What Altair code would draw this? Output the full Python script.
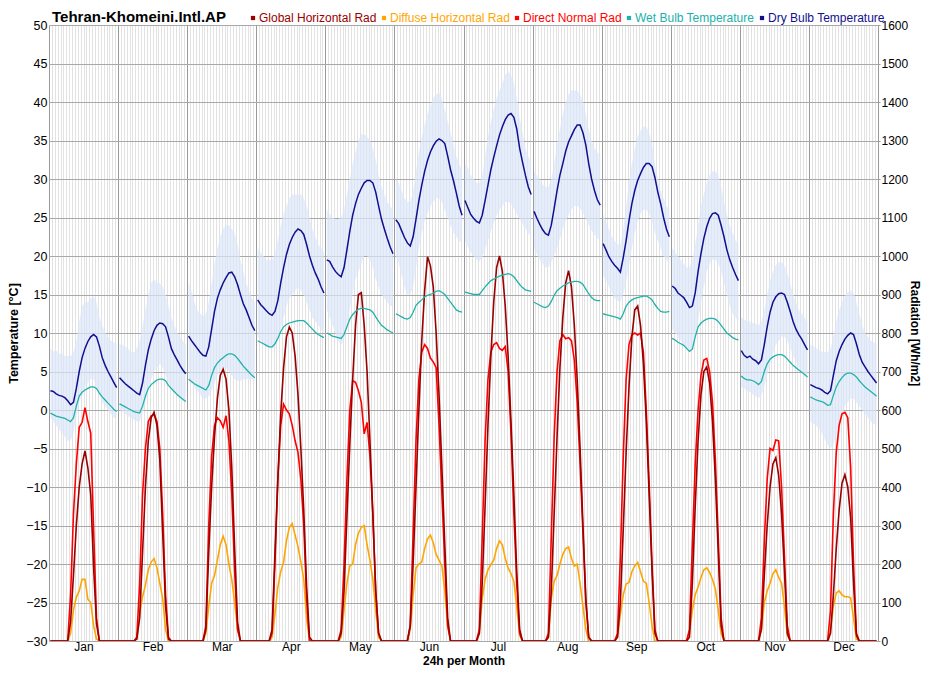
import altair as alt
import pandas as pd

FONT = "Liberation Sans, Arial, sans-serif"
MONTHS = ["Jan", "Feb", "Mar", "Apr", "May", "Jun", "Jul", "Aug", "Sep", "Oct", "Nov", "Dec"]
HOURS = list(range(24))

DRY_BULB = [
    [2.5, 2.4, 2.1, 1.9, 1.8, 1.6, 1.2, 0.7, 1.0, 2.8, 5.0, 6.8, 8.0, 8.9, 9.5, 9.8, 9.5, 8.3, 6.8, 5.8, 5.0, 4.3, 3.6, 2.9],
    [4.2, 3.8, 3.4, 3.1, 2.8, 2.5, 2.2, 2.0, 3.5, 5.8, 7.8, 9.2, 10.3, 11.0, 11.3, 11.2, 10.8, 9.5, 8.0, 7.2, 6.5, 5.8, 5.2, 4.7],
    [9.6, 9.0, 8.5, 8.0, 7.5, 7.1, 7.0, 8.2, 10.5, 12.8, 14.5, 15.6, 16.5, 17.2, 17.8, 17.9, 17.3, 16.3, 15.0, 13.8, 13.0, 12.0, 11.0, 10.3],
    [14.3, 13.7, 13.3, 12.9, 12.5, 12.3, 12.8, 14.2, 16.5, 18.5, 20.2, 21.5, 22.4, 23.1, 23.5, 23.3, 22.8, 21.5, 20.0, 18.8, 17.8, 17.0, 16.0, 15.2],
    [19.5, 19.3, 18.6, 18.0, 17.6, 17.3, 18.5, 20.8, 23.2, 25.3, 26.8, 28.0, 28.8, 29.5, 29.8, 29.8, 29.5, 28.3, 26.5, 24.8, 23.5, 22.3, 21.2, 20.3],
    [24.7, 24.2, 23.3, 22.4, 21.7, 21.3, 22.5, 24.8, 27.2, 29.2, 31.0, 32.4, 33.5, 34.3, 34.9, 35.2, 35.0, 34.6, 33.0, 31.2, 29.8, 28.2, 26.5, 25.3],
    [27.2, 26.3, 25.4, 24.9, 24.5, 24.3, 25.3, 27.2, 29.2, 31.2, 32.8, 34.3, 35.7, 36.8, 37.7, 38.3, 38.5, 38.0, 36.5, 34.0, 32.2, 30.5, 29.0, 28.0],
    [25.8, 24.9, 24.1, 23.4, 22.9, 22.7, 24.0, 26.2, 28.5, 30.5, 32.0, 33.6, 34.8, 35.6, 36.4, 37.0, 37.0, 36.0, 34.4, 32.0, 30.0, 28.5, 27.3, 26.6],
    [21.6, 20.8, 19.9, 19.3, 18.8, 18.4, 17.9, 19.8, 22.0, 24.6, 26.8, 28.5, 29.8, 30.7, 31.5, 32.0, 32.0, 31.6, 30.2, 28.3, 26.8, 25.0, 23.5, 22.5],
    [16.1, 15.8, 15.2, 14.9, 14.6, 14.0, 13.3, 13.5, 15.2, 18.0, 20.3, 22.3, 23.8, 24.9, 25.5, 25.6, 25.3, 24.0, 22.5, 20.8, 19.5, 18.5, 17.6, 16.8],
    [7.7, 7.1, 6.8, 7.0, 6.6, 6.4, 6.0, 6.5, 8.5, 10.8, 12.7, 14.0, 14.7, 15.1, 15.2, 15.0, 14.0, 12.8, 11.5, 10.5, 9.8, 9.2, 8.5, 7.8],
    [3.3, 3.1, 2.9, 2.8, 2.6, 2.3, 2.1, 2.5, 4.5, 6.4, 7.6, 8.5, 9.2, 9.7, 10.0, 9.8, 8.6, 7.2, 6.2, 5.6, 5.0, 4.5, 4.0, 3.5],
]

WET_BULB = [
    [-0.4, -0.6, -0.8, -0.9, -1.0, -1.1, -1.3, -1.5, -1.0, 0.5, 1.8, 2.3, 2.6, 2.8, 3.0, 3.0, 2.8, 2.2, 1.7, 1.3, 0.9, 0.5, 0.1, -0.2],
    [0.8, 0.6, 0.4, 0.2, 0.0, -0.2, -0.3, -0.4, 0.5, 1.8, 2.8, 3.3, 3.6, 3.9, 4.0, 4.0, 3.8, 3.2, 2.8, 2.4, 2.0, 1.7, 1.4, 1.1],
    [4.0, 3.7, 3.4, 3.2, 3.0, 2.8, 2.6, 3.2, 4.5, 5.5, 6.1, 6.5, 6.8, 7.1, 7.3, 7.3, 7.1, 6.7, 6.2, 5.7, 5.3, 4.9, 4.5, 4.2],
    [9.0, 8.8, 8.6, 8.4, 8.2, 8.2, 8.6, 9.3, 10.2, 10.8, 11.1, 11.3, 11.4, 11.5, 11.6, 11.6, 11.6, 11.3, 10.9, 10.5, 10.1, 9.8, 9.6, 9.4],
    [10.0, 9.8, 9.6, 9.5, 9.4, 9.3, 9.8, 10.8, 11.8, 12.4, 12.8, 13.1, 13.2, 13.2, 13.1, 13.0, 12.7, 12.1, 11.5, 11.0, 10.7, 10.4, 10.2, 10.0],
    [12.5, 12.3, 12.1, 11.9, 11.8, 12.0, 12.7, 13.6, 14.0, 14.3, 14.7, 14.9, 15.0, 15.2, 15.4, 15.5, 15.3, 15.0, 14.5, 14.0, 13.5, 13.0, 12.8, 12.7],
    [15.3, 15.2, 15.1, 15.0, 15.0, 15.0, 15.5, 16.0, 16.4, 16.8, 17.0, 17.2, 17.4, 17.5, 17.6, 17.7, 17.6, 17.3, 16.8, 16.3, 15.9, 15.6, 15.5, 15.4],
    [14.0, 13.8, 13.6, 13.4, 13.3, 13.5, 14.1, 14.9, 15.5, 15.8, 16.1, 16.3, 16.5, 16.6, 16.7, 16.7, 16.6, 16.3, 15.7, 15.1, 14.6, 14.3, 14.2, 14.2],
    [12.5, 12.4, 12.3, 12.2, 12.1, 12.0, 11.8, 12.5, 13.5, 14.0, 14.3, 14.5, 14.6, 14.7, 14.8, 14.8, 14.6, 14.3, 13.7, 13.2, 12.8, 12.7, 12.7, 12.8],
    [9.3, 9.1, 8.8, 8.6, 8.4, 8.0, 7.6, 7.9, 9.5, 10.8, 11.3, 11.6, 11.8, 11.9, 11.9, 11.8, 11.5, 11.0, 10.5, 10.0, 9.7, 9.4, 9.2, 9.1],
    [4.4, 4.1, 3.9, 3.9, 3.8, 3.6, 3.3, 3.7, 5.0, 6.0, 6.6, 6.9, 7.1, 7.2, 7.2, 7.0, 6.6, 6.2, 5.8, 5.5, 5.2, 4.9, 4.6, 4.3],
    [1.7, 1.5, 1.3, 1.2, 1.1, 0.9, 0.6, 0.7, 1.9, 3.0, 3.7, 4.2, 4.6, 4.8, 4.8, 4.6, 4.3, 3.8, 3.4, 3.0, 2.7, 2.4, 2.1, 1.8],
]

DRY_MAX = [
    [8, 7.6, 7.8, 7.3, 7.3, 7.0, 7.0, 7.0, 7.5, 9.0, 11.5, 13.5, 14, 14, 14.5, 14.8, 14, 12, 11, 10, 9.5, 9, 8.8, 8.5],
    [8.5, 8.5, 8.2, 8, 7.5, 7.5, 8, 9, 11, 13, 15, 16.5, 17, 16.5, 16.5, 16, 15, 13.5, 12, 11, 10, 9.5, 9, 8.5],
    [16.5, 15.5, 14, 13, 12.5, 12.2, 12.5, 14, 16.5, 19, 21, 22.5, 23.5, 24, 24, 23.5, 23, 21.5, 19.5, 18, 16.5, 15.5, 14.5, 14],
    [21, 20.5, 20, 19.5, 19.5, 19.5, 20.5, 22, 24, 25.5, 26.5, 27.5, 28, 28, 28, 28, 27.5, 26.5, 25, 23.5, 22.5, 21.5, 21, 20.5],
    [26, 25.5, 25, 24.8, 24.8, 25, 26, 28, 30, 32, 33.5, 35, 35.8, 35.8, 35.5, 35, 34, 32.5, 30.5, 29, 28, 27, 26.5, 26],
    [30, 29.5, 28.5, 27.5, 27, 27, 28.5, 31, 33.5, 35.5, 37, 38.5, 39.5, 40.5, 41, 41.2, 40.5, 39, 37.5, 36, 34.5, 33, 32, 31],
    [32, 31.5, 30.5, 30, 29.5, 29.5, 30.5, 33, 35.5, 37.5, 39, 40.5, 41.5, 42.5, 43.5, 44, 43.5, 42.5, 40.5, 38, 36, 34, 33, 32],
    [31, 30.5, 29.8, 29.3, 29, 29, 30, 32, 34.5, 36.5, 38.5, 40, 41, 41.5, 41.5, 41.5, 41, 40, 38.5, 36.5, 35, 34, 33.5, 33],
    [25.5, 24.5, 23.5, 22.5, 22, 21.5, 21.5, 23.5, 26.5, 29.5, 32, 34, 35.5, 36.3, 36.8, 36.8, 36, 34.5, 32, 30, 28.5, 27.5, 26.5, 26],
    [21, 20.5, 20, 19.5, 19, 18.5, 18.5, 19.5, 21.5, 24, 26.5, 28, 29.5, 30.5, 31, 31, 30.5, 29, 27, 25.5, 24, 23, 22, 21.5],
    [12, 11.8, 11.5, 11.5, 11.3, 11.2, 11.0, 11.5, 13, 15, 16.8, 18, 18.8, 19.2, 19.2, 18.8, 17.8, 16.5, 15, 14, 13, 12.5, 12, 11.5],
    [8.5, 8.3, 8, 7.8, 7.6, 7.5, 7.5, 8, 9.5, 11.5, 13, 14, 14.8, 15.3, 15.5, 15.2, 14, 12.5, 11, 10, 9.5, 9, 8.8, 8.5],
]

DRY_MIN = [
    [-1, -1.5, -2, -2.5, -3, -3.5, -4, -4, -3, -1, 1, 2, 3, 3.5, 4, 4, 3, 2, 1, 0.5, 0, -0.5, -1, -1],
    [0, -0.2, -0.5, -0.8, -1, -1.3, -1.5, -1.5, -0.5, 1, 2.5, 4, 5, 5.5, 6, 5.5, 4.5, 3.5, 3, 2.5, 2, 1.5, 1.2, 1],
    [4, 3.5, 3, 2.5, 2, 1.5, 1.5, 1.8, 2.5, 3.5, 4.5, 5, 5.5, 5.5, 5, 4.5, 4, 3.8, 3.8, 4, 4, 4, 4, 4],
    [9.5, 9, 8.5, 8.2, 8, 8, 8.5, 9.5, 10.5, 12, 13.5, 14.5, 15, 15.5, 16, 15.5, 15, 14, 13, 12, 11.5, 11, 10.5, 10],
    [13, 12, 11, 10, 9, 8.5, 9, 11, 13, 15, 17, 18, 19, 20, 20, 19.5, 18.5, 17, 16, 15, 14.5, 14, 13.5, 13.5],
    [20, 19, 17.5, 16, 15, 15, 16, 18.5, 21, 23, 24.5, 25.5, 26.5, 27, 27.5, 27.5, 27, 26, 25, 24, 23, 22.5, 22, 21.5],
    [22, 21.2, 20.5, 20, 19.5, 19.3, 19.8, 20.8, 22, 23.2, 24.3, 25.2, 26, 26.5, 27, 27, 26.8, 26.2, 25.5, 24.8, 24.2, 23.6, 23, 22.5],
    [21, 20.2, 19.5, 19, 18.5, 18.5, 19.2, 20, 21, 22.3, 23.5, 24.5, 25.3, 26, 26.5, 26.5, 26.2, 25.6, 24.8, 24, 23.3, 22.8, 22.3, 22],
    [17.5, 16.8, 16, 15.2, 14.5, 14.2, 14, 15, 16.5, 18.8, 21, 23, 24.5, 25.5, 26, 26, 25.5, 24.5, 23, 22, 21, 20, 19.5, 19],
    [10.5, 10, 9.5, 9, 8.5, 8, 7.5, 8, 9.5, 11.5, 14, 16, 18, 19, 19.5, 19.5, 19, 18, 16.5, 15, 13.5, 12.5, 12, 11.5],
    [3, 2.8, 2.5, 2.3, 2, 1.8, 1.5, 2, 3, 4.5, 6, 7.3, 8.5, 9, 9.5, 9.5, 9, 8, 7, 6.3, 5.5, 5, 4.5, 4],
    [-1.5, -1.8, -2, -2.5, -3, -3.8, -4.5, -5, -4.5, -3.2, -2, -0.8, 0.5, 1, 1.5, 1.5, 1, 0.5, 0, -0.5, -1, -1.5, -1.8, -2],
]

GLOBAL_HOR = [
    [0, 0, 0, 0, 0, 0, 0, 50, 170, 300, 400, 460, 494, 450, 380, 190, 45, 0, 0, 0, 0, 0, 0, 0],
    [0, 0, 0, 0, 0, 0, 5, 60, 230, 400, 520, 580, 594, 560, 470, 280, 90, 5, 0, 0, 0, 0, 0, 0],
    [0, 0, 0, 0, 0, 0, 30, 230, 400, 530, 630, 690, 706, 680, 600, 450, 240, 50, 0, 0, 0, 0, 0, 0],
    [0, 0, 0, 0, 0, 30, 230, 420, 590, 710, 790, 815, 800, 740, 640, 500, 340, 140, 10, 0, 0, 0, 0, 0],
    [0, 0, 0, 0, 0, 20, 130, 320, 510, 680, 820, 900, 905, 820, 700, 520, 330, 130, 20, 0, 0, 0, 0, 0],
    [0, 0, 0, 0, 0, 40, 200, 400, 600, 780, 910, 998, 975, 920, 800, 640, 450, 250, 60, 0, 0, 0, 0, 0],
    [0, 0, 0, 0, 0, 20, 150, 350, 560, 740, 880, 970, 1000, 960, 870, 740, 570, 380, 180, 30, 0, 0, 0, 0],
    [0, 0, 0, 0, 0, 10, 130, 330, 530, 710, 840, 930, 962, 920, 820, 680, 500, 300, 110, 10, 0, 0, 0, 0],
    [0, 0, 0, 0, 0, 10, 100, 290, 490, 660, 790, 860, 870, 820, 720, 570, 380, 180, 20, 0, 0, 0, 0, 0],
    [0, 0, 0, 0, 0, 0, 10, 150, 350, 520, 640, 700, 712, 670, 570, 420, 230, 40, 0, 0, 0, 0, 0, 0],
    [0, 0, 0, 0, 0, 0, 0, 30, 170, 300, 400, 460, 476, 430, 330, 180, 20, 0, 0, 0, 0, 0, 0, 0],
    [0, 0, 0, 0, 0, 0, 0, 20, 120, 240, 340, 410, 432, 400, 320, 150, 15, 0, 0, 0, 0, 0, 0, 0],
]

DIFFUSE_HOR = [
    [0, 0, 0, 0, 0, 0, 0, 20, 80, 114, 130, 160, 160, 108, 100, 40, 5, 0, 0, 0, 0, 0, 0, 0],
    [0, 0, 0, 0, 0, 0, 5, 70, 115, 145, 185, 205, 214, 190, 150, 110, 30, 0, 0, 0, 0, 0, 0, 0],
    [0, 0, 0, 0, 0, 0, 20, 90, 150, 170, 210, 250, 272, 250, 200, 160, 100, 30, 0, 0, 0, 0, 0, 0],
    [0, 0, 0, 0, 0, 10, 70, 140, 180, 205, 260, 295, 305, 275, 245, 205, 160, 60, 0, 0, 0, 0, 0, 0],
    [0, 0, 0, 0, 0, 10, 80, 150, 195, 200, 250, 280, 295, 300, 250, 210, 160, 80, 10, 0, 0, 0, 0, 0],
    [0, 0, 0, 0, 0, 30, 120, 190, 200, 205, 240, 265, 275, 255, 225, 210, 195, 130, 40, 0, 0, 0, 0, 0],
    [0, 0, 0, 0, 0, 20, 110, 160, 185, 198, 210, 240, 260, 250, 215, 190, 175, 155, 90, 15, 0, 0, 0, 0],
    [0, 0, 0, 0, 0, 10, 110, 155, 170, 200, 225, 240, 244, 215, 195, 200, 150, 90, 30, 0, 0, 0, 0, 0],
    [0, 0, 0, 0, 0, 10, 70, 120, 148, 152, 180, 195, 204, 180, 155, 150, 100, 40, 0, 0, 0, 0, 0, 0],
    [0, 0, 0, 0, 0, 0, 20, 80, 120, 140, 165, 185, 190, 178, 160, 135, 80, 20, 0, 0, 0, 0, 0, 0],
    [0, 0, 0, 0, 0, 0, 0, 30, 100, 130, 150, 175, 185, 165, 150, 90, 15, 0, 0, 0, 0, 0, 0, 0],
    [0, 0, 0, 0, 0, 0, 0, 30, 90, 125, 130, 120, 115, 115, 112, 60, 5, 0, 0, 0, 0, 0, 0, 0],
]

DIRECT_NORMAL = [
    [0, 0, 0, 0, 0, 0, 0, 120, 330, 460, 555, 568, 606, 570, 540, 290, 60, 0, 0, 0, 0, 0, 0, 0],
    [0, 0, 0, 0, 0, 0, 10, 150, 380, 500, 570, 585, 588, 570, 500, 330, 120, 10, 0, 0, 0, 0, 0, 0],
    [0, 0, 0, 0, 0, 0, 40, 300, 480, 560, 580, 572, 555, 585, 520, 380, 180, 30, 0, 0, 0, 0, 0, 0],
    [0, 0, 0, 0, 0, 20, 200, 420, 560, 615, 600, 590, 560, 520, 490, 420, 300, 110, 0, 0, 0, 0, 0, 0],
    [0, 0, 0, 0, 0, 30, 200, 420, 600, 676, 672, 650, 620, 538, 568, 480, 330, 130, 20, 0, 0, 0, 0, 0],
    [0, 0, 0, 0, 0, 40, 280, 520, 680, 750, 770, 760, 735, 725, 710, 560, 380, 200, 40, 0, 0, 0, 0, 0],
    [0, 0, 0, 0, 0, 30, 270, 520, 680, 750, 770, 775, 760, 755, 765, 700, 540, 330, 150, 20, 0, 0, 0, 0],
    [0, 0, 0, 0, 0, 20, 270, 530, 700, 780, 796, 785, 788, 780, 730, 620, 460, 280, 100, 10, 0, 0, 0, 0],
    [0, 0, 0, 0, 0, 20, 220, 480, 680, 770, 795, 800, 795, 800, 750, 600, 410, 200, 30, 0, 0, 0, 0, 0],
    [0, 0, 0, 0, 0, 0, 30, 250, 460, 600, 690, 730, 734, 700, 620, 470, 270, 60, 0, 0, 0, 0, 0, 0],
    [0, 0, 0, 0, 0, 0, 0, 60, 260, 420, 500, 495, 522, 520, 400, 220, 40, 0, 0, 0, 0, 0, 0, 0],
    [0, 0, 0, 0, 0, 0, 0, 80, 330, 490, 560, 590, 594, 580, 450, 200, 20, 0, 0, 0, 0, 0, 0, 0],
]

SERIES = ["Global Horizontal Rad", "Diffuse Horizontal Rad", "Direct Normal Rad",
          "Wet Bulb Temperature", "Dry Bulb Temperature"]
COLORS = ["#990000", "#ffa500", "#ff0000", "#20b2aa", "#10108f"]


def long_table(name, table):
    return pd.DataFrame([
        {"month": MONTHS[m], "x": m * 24 + h + 0.5, "series": name, "value": table[m][h]}
        for m in range(12) for h in HOURS
    ])


band_df = pd.DataFrame([
    {"month": MONTHS[m], "x": m * 24 + h + 0.5, "lo": DRY_MIN[m][h], "hi": DRY_MAX[m][h]}
    for m in range(12) for h in HOURS
])

month_arr = "[" + ",".join("'%s'" % m for m in MONTHS) + "]"
x_axis = alt.Axis(
    values=list(range(0, 289)),
    labelExpr="datum.value %% 24 == 12 ? %s[floor(datum.value / 24)] : ''" % month_arr,
    labelOverlap=False, labelFlush=False, ticks=False, domain=False,
    grid=True,
    gridColor={"condition": {"test": "datum.value % 24 == 0", "value": "#9a9a9a"}, "value": "#e2e2e2"},
    gridWidth=1,
    labelPadding=0, labelFontSize=12, labelFont=FONT, labelColor="#000",
    title="24h per Month", titleFont=FONT, titleFontSize=12, titleFontWeight="bold",
    titleColor="#000", titleBaseline="top", titleY=14,
)
x_enc = alt.X("x:Q", scale=alt.Scale(domain=[0, 288], nice=False, zero=False), axis=x_axis)

yT_scale = alt.Scale(domain=[-30, 50], nice=False, zero=False)
yR_scale = alt.Scale(domain=[0, 1600], nice=False, zero=False)

yT_axis = alt.Axis(
    orient="left", values=list(range(-30, 51, 5)), grid=True, gridColor="#a8a8a8", gridWidth=1,
    ticks=False, domain=False, labelPadding=2, labelFontSize=12.5, labelFont=FONT, labelColor="#000",
    title="Temperature [°C]", titleFont=FONT, titleFontSize=12.5, titleFontWeight="bold",
    titleColor="#000", titlePadding=5,
)
yR_axis = alt.Axis(
    orient="right", values=list(range(0, 1601, 100)), format="d", grid=False, ticks=True, tickSize=2,
    tickColor="#999999", domain=False, labelPadding=1, labelFontSize=12, labelFont=FONT,
    labelColor="#000", title="Radiation [Wh/m2]", titleFont=FONT, titleFontSize=12,
    titleFontWeight="bold", titleColor="#000", titlePadding=0,
)

color_expr = ""
for s, c in zip(SERIES, COLORS):
    color_expr += "datum.value == '%s' ? '%s' : " % (s, c)
color_expr += "'#000'"

legend = alt.Legend(
    title=None, orient="none", legendX=198, legendY=-13, direction="horizontal",
    symbolType="square", symbolSize=3, symbolStrokeWidth=2.5, labelFontSize=12,
    labelFont=FONT, labelOffset=0, columnPadding=1, padding=0,
    labelColor={"expr": color_expr},
)
color_enc = alt.Color("series:N", scale=alt.Scale(domain=SERIES, range=COLORS), legend=legend)

band = alt.Chart(band_df).mark_area(color="#dce7fb", opacity=0.7).encode(
    x=x_enc,
    y=alt.Y("lo:Q", scale=yT_scale, axis=yT_axis),
    y2="hi:Q",
    detail="month:N",
)


def rad_line(name, table):
    return alt.Chart(long_table(name, table)).mark_line(strokeWidth=1.6, clip=True).encode(
        x=x_enc,
        y=alt.Y("value:Q", scale=yR_scale, axis=yR_axis),
        color=color_enc,
    )


def temp_line(name, table, width):
    return alt.Chart(long_table(name, table)).mark_line(strokeWidth=width, clip=True).encode(
        x=x_enc,
        y=alt.Y("value:Q", scale=yT_scale, axis=None),
        color=color_enc,
        detail="month:N",
    )


rad = alt.layer(
    rad_line(SERIES[1], DIFFUSE_HOR),
    rad_line(SERIES[2], DIRECT_NORMAL),
    rad_line(SERIES[0], GLOBAL_HOR),
)
temps = alt.layer(
    temp_line(SERIES[3], WET_BULB, 1.3),
    temp_line(SERIES[4], DRY_BULB, 1.5),
)

chart = alt.layer(band, rad, temps).resolve_scale(y="independent").properties(
    width=829, height=616,
    autosize=alt.AutoSizeParams(type="none"),
    padding={"left": 41, "top": 17, "right": 44, "bottom": 28},
    title=alt.TitleParams("Tehran-Khomeini.Intl.AP", anchor="start", frame="group", fontSize=15,
                          fontWeight="bold", font=FONT, color="#000", offset=4, dy=17, dx=3),
).configure_view(stroke=None)

chart.save("out.html", embed_options={"renderer": "svg", "actions": False})
